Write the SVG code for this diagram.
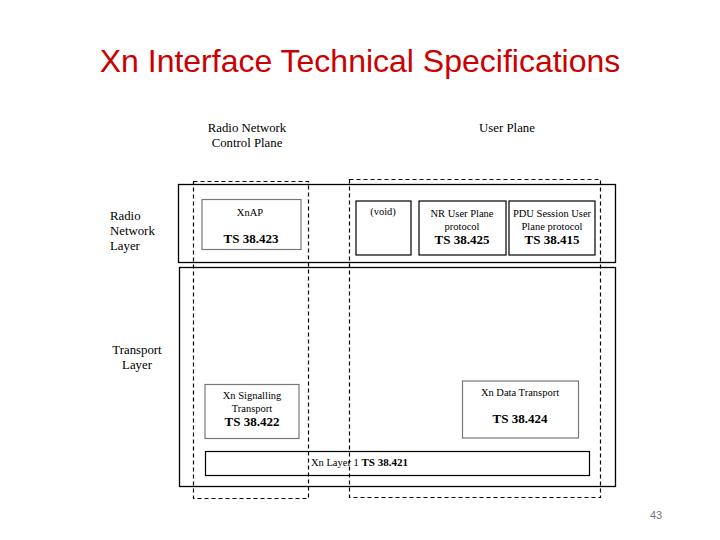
<svg xmlns="http://www.w3.org/2000/svg" width="720" height="540" viewBox="0 0 720 540">
<style>
.t{font-family:"Liberation Serif","Times New Roman",serif;fill:#000;text-anchor:middle}
.lbl{font-size:12.8px}
.s{font-size:10.5px}
.b{font-size:13px;font-weight:bold}
.box{fill:#fff;stroke:#000;stroke-width:1.2}
.gbox{fill:#fff;stroke:#777;stroke-width:1.2}
.layer{fill:none;stroke:#000;stroke-width:1.3}
.dash{fill:none;stroke:#000;stroke-width:1.2;stroke-dasharray:4,3}
</style>
<rect width="720" height="540" fill="#fff"/>
<text x="360" y="72" font-family="Liberation Sans,Arial,sans-serif" font-size="32" fill="#CC0000" text-anchor="middle">Xn Interface Technical Specifications</text>
<g id="labels">
<text class="t lbl" x="247" y="132">Radio Network</text>
<text class="t lbl" x="247" y="147">Control Plane</text>
<text class="t lbl" x="507" y="132">User Plane</text>
<text class="t lbl" x="110" y="220" style="text-anchor:start">Radio</text>
<text class="t lbl" x="110" y="235" style="text-anchor:start">Network</text>
<text class="t lbl" x="110" y="250" style="text-anchor:start">Layer</text>
<text class="t lbl" x="137" y="354">Transport</text>
<text class="t lbl" x="137" y="369">Layer</text>
</g>
<g id="layer-rnl"><rect class="layer" x="178.5" y="184.5" width="437" height="78"/></g>
<g id="layer-tl"><rect class="layer" x="179.5" y="267.5" width="436" height="219"/></g>
<g id="xnap"><rect class="gbox" x="202" y="199.5" width="99" height="50"/>
<text class="t s" x="250" y="216">XnAP</text>
<text class="t b" x="251" y="243">TS 38.423</text></g>
<g id="void"><rect class="box" x="356" y="201" width="55" height="54"/>
<text class="t s" x="383" y="215">(void)</text></g>
<g id="nrup"><rect class="box" x="419" y="201" width="87" height="54"/>
<text class="t s" x="462" y="217">NR User Plane</text>
<text class="t s" x="462" y="230">protocol</text>
<text class="t b" x="462" y="244">TS 38.425</text></g>
<g id="pdu"><rect class="box" x="509" y="201" width="86" height="54"/>
<text class="t s" x="552" y="217">PDU Session User</text>
<text class="t s" x="552" y="230">Plane protocol</text>
<text class="t b" x="552" y="244">TS 38.415</text></g>
<g id="xnst"><rect class="gbox" x="205" y="384.5" width="94" height="54"/>
<text class="t s" x="252" y="399">Xn Signalling</text>
<text class="t s" x="252" y="412">Transport</text>
<text class="t b" x="252" y="426">TS 38.422</text></g>
<g id="xndt"><rect class="gbox" x="462.5" y="381" width="116" height="57"/>
<text class="t s" x="520" y="396">Xn Data Transport</text>
<text class="t b" x="520" y="423">TS 38.424</text></g>
<g id="l1"><rect class="box" x="205.5" y="451.5" width="384" height="24"/>
<text class="t s" x="311" y="466" style="text-anchor:start">Xn Layer 1 <tspan font-weight="bold" font-size="11">TS 38.421</tspan></text></g>
<g id="planes">
<rect class="dash" x="193.5" y="181.5" width="115" height="317"/>
<rect class="dash" x="349.5" y="179.5" width="251" height="318"/>
</g>
<text x="656" y="519" font-family="Liberation Sans,Arial,sans-serif" font-size="11" fill="#777" text-anchor="middle">43</text>
</svg>
